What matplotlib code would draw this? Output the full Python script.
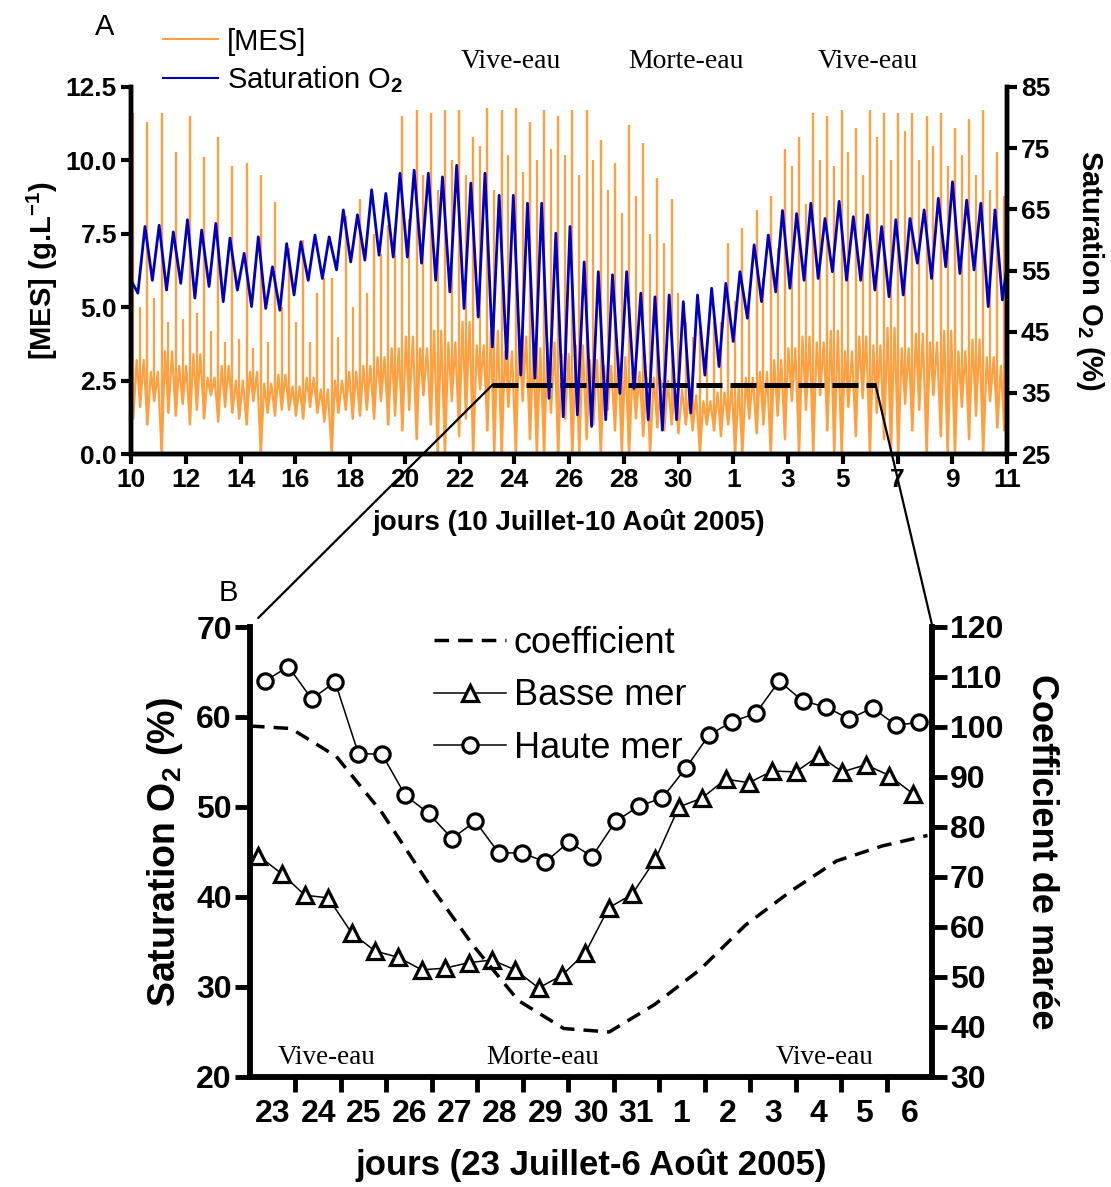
import numpy as np
import matplotlib
matplotlib.use("Agg")
import matplotlib.pyplot as plt
from matplotlib.lines import Line2D
from matplotlib.patches import ConnectionPatch

plt.rcParams['font.family'] = ['Liberation Sans', 'DejaVu Sans']
plt.rcParams['font.weight'] = 'bold'
plt.rcParams['axes.labelweight'] = 'bold'
plt.rcParams['mathtext.fontset'] = 'custom'
plt.rcParams['mathtext.rm'] = 'Liberation Sans'
plt.rcParams['mathtext.bf'] = 'Liberation Sans:bold'

# ---------------------------------------------------------------------------
# Panel A : 10 juillet (jour 0) -> 11 août (jour 32), un cycle de marée = 12.42 h
# ---------------------------------------------------------------------------
tide_period = 0.5175          # jours
o2_first_peak = 0.511         # jour du premier pic de saturation
o2_edges = [53.4, 55.6]       # valeurs aux bords (jour 0 et jour 32)

# maxima de saturation O2 (%) par cycle de marée
o2_peak = [62.2, 62.4, 61.3, 63.3, 61.6, 62.7, 60.3, 57.8, 60.5, 55.6, 59.4, 59.7, 60.8, 60.5, 64.9,
           64.1, 68.2, 67.6, 70.9, 71.4, 70.9, 70.3, 72.2, 69.3, 70.9, 67.3, 67.3, 66.0, 66.0, 61.1, 62.2,
           56.4, 54.8, 54.3, 54.8, 51.3, 50.7, 51.0, 49.9, 51.0, 52.1, 52.9, 54.8, 59.2, 60.8, 64.8,
           64.3, 66.0, 63.5, 66.3, 63.8, 64.1, 62.2, 63.3, 63.5, 64.9, 66.8, 69.5, 66.5, 66.0, 64.9]
# minima de saturation O2 (%) : un avant le premier pic, puis un après chaque pic
o2_trough = [51.3, 53.4, 51.8, 52.9, 50.5, 52.4, 49.9, 51.8, 49.1, 48.8, 48.5, 51.0, 53.4, 53.7, 55.1, 56.4,
             56.7, 57.5, 57.2, 57.2, 56.2, 53.4, 51.5, 48.8, 47.4, 42.5, 40.6, 37.9, 37.4, 34.1, 31.1, 31.4,
             29.5, 30.6, 34.9, 35.7, 30.6, 28.9, 30.6, 31.7, 37.9, 39.3, 43.4, 47.2, 49.9, 51.5, 52.1,
             53.4, 53.7, 54.8, 53.4, 53.4, 51.8, 50.7, 51.0, 56.2, 53.7, 55.6, 54.5, 55.1, 49.1, 50.2]

# [MES] (g/L) : deux pics de remise en suspension par cycle + niveaux de fond
mes_first_spike = 0.0835
mes_spike_a = [11.6, 11.3, 11.6, 10.3, 11.5, 10.1, 10.8, 9.8, 9.9, 9.5, 8.6, 7.0, 7.3, 5.5, 6.0, 8.1, 8.7, 7.5, 7.8,
               11.5, 11.7, 11.6, 11.7, 11.7, 10.8, 11.8, 11.7, 11.8, 11.3, 11.7,
               11.5, 11.7, 11.7, 10.7, 9.9, 11.2, 10.6, 9.4, 8.7,
               4.5, 4.2, 4.5, 7.2, 7.7, 8.3, 8.8,
               10.4, 10.8, 11.6, 11.5, 11.7, 11.1, 11.7, 11.6, 11.6, 11.6, 11.5, 11.6, 11.1, 11.4, 11.7, 10.3]
mes_spike_b = [5.0, 5.3, 4.5, 4.6, 4.8, 4.2, 3.8, 3.9, 3.6, 3.8, 5.0,
               4.5, 3.8, 6.0, 4.0, 5.0, 5.5, 6.8, 7.7,
               8.0, 9.5, 9.0, 10.0, 9.5, 10.5, 9.0, 10.2, 9.6, 10.0, 10.4, 10.2, 9.5, 10.0, 9.0, 8.2, 8.8, 7.5, 7.2, 5.5,
               4.0, 3.8, 4.5, 5.2, 5.5, 6.0, 7.0,
               9.8, 8.5, 10.0, 9.8, 10.3, 9.5, 10.8, 10.0, 11.0, 10.0, 10.5, 9.8, 10.2, 9.5, 9.0, 8.8]
mes_low_a = [1.2, 1.0, 0.0, 1.3, 1.0, 1.2, 1.1, 1.4, 1.0, 0.0, 1.3,
             1.5, 1.2, 1.4, 0.0, 1.5, 1.3, 1.2, 1.0,
             0.8, 0.5, 1.0, 0.0, 0.6, 0.0, 0.8, 0.0, 0.0, 0.5, 0.0, 0.0, 0.0, 0.5, 0.0, 0.8, 0.0, 0.6, 0.9, 1.0,
             1.0, 0.0, 0.8, 1.0, 0.0, 0.7, 0.0,
             0.5, 0.0, 0.0, 0.8, 0.0, 0.6, 0.0, 0.5, 0.0, 0.8, 0.0, 0.6, 0.0, 0.5, 0.0, 0.9]
mes_mid = [3.2, 2.8, 3.5, 3.0, 3.4, 2.6, 3.0, 2.5, 2.8, 2.4, 2.7,
           2.3, 2.6, 2.2, 2.5, 2.8, 3.0, 3.3, 3.6,
           4.0, 3.6, 4.2, 3.8, 4.5, 3.7, 4.2, 3.5, 4.0, 3.6, 3.8, 3.4, 3.7, 3.2, 3.0, 3.3, 2.8, 2.6, 2.5, 2.2,
           2.0, 1.8, 2.1, 2.3, 2.6, 2.8, 3.2,
           3.6, 4.0, 3.8, 4.2, 3.5, 4.0, 3.7, 4.3, 3.6, 4.1, 3.8, 4.2, 3.5, 3.9, 3.3, 3.0]
mes_low_b = [1.6, 1.8, 1.4, 1.7, 1.5, 2.0, 1.6, 1.2, 1.8, 1.4, 1.5,
             1.3, 1.6, 1.1, 1.4, 1.2, 1.5, 1.8, 1.3,
             1.5, 2.0, 0.0, 1.8, 1.2, 2.2, 0.0, 1.6, 1.8, 0.0, 1.4, 1.2, 0.0, 1.0, 1.5, 0.0, 1.2, 0.0, 0.8, 0.7,
             0.8, 1.0, 0.6, 0.0, 1.2, 1.0, 1.3,
             1.8, 1.5, 2.0, 0.0, 1.6, 1.9, 1.4, 0.0, 1.7, 1.5, 2.0, 0.0, 1.6, 1.3, 1.8, 0.8]

top_xticks = list(range(0, 33, 2))
top_xlabels = ['10', '12', '14', '16', '18', '20', '22', '24', '26', '28', '30',
               '1', '3', '5', '7', '9', '11']
zoom_span = [13.2, 27.2]      # période agrandie en B (jours depuis le 10 juillet)
zoom_level = 2.35

# ---------------------------------------------------------------------------
# Panel B : 23 juillet -> 6 août (jour 23 = 23 juillet, 32 = 1er août)
# ---------------------------------------------------------------------------
bm_start, hm_start, sample_step = 23.18, 23.33, 0.514
basse_mer = [44.6, 42.6, 40.2, 39.9, 36.0, 34.0, 33.3, 31.9, 32.1, 32.7, 33.0, 31.9, 29.9, 31.3, 33.8,
             38.8, 40.3, 44.2, 50.0, 51.0, 53.1, 52.7, 54.0, 53.9, 55.7, 53.9, 54.7, 53.5, 51.5]
haute_mer = [64.0, 65.6, 62.0, 63.9, 55.9, 55.9, 51.3, 49.3, 46.5, 48.4, 44.9, 44.9, 43.9, 46.1, 44.5,
             48.4, 50.1, 51.0, 54.3, 58.0, 59.5, 60.4, 64.0, 61.8, 61.1, 59.8, 61.0, 59.1, 59.4]
coef_days = [23.0, 23.9, 24.9, 25.9, 26.9, 27.9, 28.9, 29.9, 30.9, 31.9, 32.9, 33.9, 34.9, 35.9, 36.9, 37.9]
coefficient = [100.2, 99.7, 94.1, 82.9, 69.1, 56.4, 45.3, 39.7, 39.0, 44.5, 51.5, 60.4, 67.2, 73.2, 76.2, 78.3]
bottom_days = ['23', '24', '25', '26', '27', '28', '29', '30', '31', '1', '2', '3', '4', '5', '6']

ORANGE = '#ffa040'
BLUE = '#0000c0'
COEF_DASH = (0, (4.2, 2.6))
W, H = 1111, 1187

fig = plt.figure(figsize=(W / 100, H / 100), dpi=100)


def add_axes_px(left, top, right, bottom):
    return fig.add_axes([left / W, 1 - bottom / H, (right - left) / W, (bottom - top) / H])


def style_spines(ax, lw):
    ax.spines['top'].set_visible(False)
    for s in ('left', 'right', 'bottom'):
        ax.spines[s].set_linewidth(lw)


# ---------------- Panel A ----------------
ax1 = add_axes_px(131, 87, 1007, 454)
ax2 = ax1.twinx()

cyc = np.arange(len(mes_spike_a))
t_a = mes_first_spike + cyc * tide_period
t_b = t_a + 0.25
band_t = np.column_stack([t_a, t_a + 0.125, t_b, t_b + 0.13]).ravel()
band_v = np.column_stack([mes_low_a, mes_mid, mes_low_b, mes_mid]).ravel()
ax1.plot(np.r_[0.0, band_t], np.r_[mes_mid[0], band_v], color=ORANGE, lw=1.6)
ax1.vlines(t_a, mes_low_a, mes_spike_a, color=ORANGE, lw=1.7)
ax1.vlines(t_b, mes_low_b, mes_spike_b, color=ORANGE, lw=1.6)
ax1.plot(zoom_span, [zoom_level, zoom_level], color='k', lw=3.6,
         ls=(0, (5.2, 1.6)), zorder=5)

t_peak = o2_first_peak + np.arange(len(o2_peak)) * tide_period
t_trough = np.r_[t_peak[0] - 0.26, t_peak + 0.27]
t_o2 = np.empty(len(t_peak) + len(t_trough))
v_o2 = np.empty_like(t_o2)
t_o2[0::2], t_o2[1::2] = t_trough, t_peak
v_o2[0::2], v_o2[1::2] = o2_trough, o2_peak
ax2.plot(np.r_[0.0, t_o2, 32.0], np.r_[o2_edges[0], v_o2, o2_edges[1]], color=BLUE, lw=2.0)

ax1.set_xlim(0, 32)
ax1.set_ylim(0, 12.5)
ax2.set_ylim(25, 85)
ax1.set_xticks(top_xticks)
ax1.set_xticklabels(top_xlabels)
ax1.set_yticks(np.arange(0, 12.6, 2.5))
ax1.set_yticklabels([f'{v:.1f}' for v in np.arange(0, 12.6, 2.5)])
ax2.set_yticks(range(25, 86, 10))
for ax in (ax1, ax2):
    style_spines(ax, 3.2)
    ax.tick_params(direction='out', length=7, width=3, labelsize=19, pad=3)
ax1.set_xlabel('jours (10 Juillet-10 Août 2005)', fontsize=20, labelpad=12)
ax1.set_ylabel(r'[MES] (g.L$^{\mathbf{-1}}$)', fontsize=21, labelpad=4)
ax2.set_ylabel(r'Saturation O$_\mathbf{2}$ (%)', fontsize=21, rotation=270, labelpad=40)

ax1.legend([Line2D([], [], color=ORANGE, lw=1.5), Line2D([], [], color=BLUE, lw=1.5)],
           ['[MES]', r'Saturation O$_\mathrm{2}$'],
           loc='upper left', bbox_to_anchor=(148 / W, 1 - 13 / H),
           bbox_transform=fig.transFigure, frameon=False,
           prop={'size': 21, 'weight': 'normal'}, handlelength=1.9,
           handletextpad=0.3, labelspacing=0.3, borderpad=0)

fig.text(105 / W, 1 - 27 / H, 'A', fontsize=21, fontweight='normal', ha='center', va='center')
for x, lbl in [(511, 'Vive-eau'), (686, 'Morte-eau'), (868, 'Vive-eau')]:
    fig.text(x / W, 1 - 62 / H, lbl, family='Liberation Serif', fontweight='normal',
             fontsize=20, ha='center', va='center')

# ---------------- Panel B ----------------
ax3 = add_axes_px(250, 627, 932, 1077)
ax4 = ax3.twinx()

ax4.plot(coef_days, coefficient, color='k', lw=2.5, ls=COEF_DASH)
t_bm = bm_start + np.arange(len(basse_mer)) * sample_step
t_hm = hm_start + np.arange(len(haute_mer)) * sample_step
ax3.plot(t_bm, basse_mer, color='k', lw=1.1, marker='^', ms=12, mfc='white', mec='k', mew=2.3, zorder=4)
ax3.plot(t_hm, haute_mer, color='k', lw=1.1, marker='o', ms=11, mfc='white', mec='k', mew=2.3, zorder=4)

ax3.set_xlim(23, 38)
ax3.set_ylim(20, 70)
ax4.set_ylim(30, 120)
ax3.set_xticks(np.arange(24, 38))
ax3.set_xticklabels([])
ax3.set_xticks(np.arange(23.5, 38, 1.0), minor=True)
ax3.set_xticklabels(bottom_days, minor=True)
ax3.set_yticks(range(20, 71, 10))
ax4.set_yticks(range(30, 121, 10))
for ax in (ax3, ax4):
    style_spines(ax, 4)
    ax.tick_params(direction='out', length=11, width=3.5, labelsize=23, pad=2)
ax3.tick_params(axis='x', which='minor', length=0, labelsize=23, pad=16)
ax3.set_xlabel('jours (23 Juillet-6 Août 2005)', fontsize=25, labelpad=14)
ax3.set_ylabel(r'Saturation O$_\mathbf{2}$ (%)', fontsize=27, labelpad=8)
ax4.set_ylabel('Coefficient de marée', fontsize=26, rotation=270, labelpad=40)

ax3.legend([Line2D([], [], color='k', lw=2.5, ls=COEF_DASH),
            Line2D([], [], color='k', lw=1.1, marker='^', ms=12, mfc='white', mec='k', mew=2.3),
            Line2D([], [], color='k', lw=1.1, marker='o', ms=11, mfc='white', mec='k', mew=2.3)],
           ['coefficient', 'Basse mer', 'Haute mer'],
           loc='upper left', bbox_to_anchor=(416 / W, 1 - 608 / H), bbox_transform=fig.transFigure,
           frameon=False, prop={'size': 26, 'weight': 'normal'}, handlelength=2.0,
           handletextpad=0.2, labelspacing=0.48, borderpad=0)

fig.text(228 / W, 1 - 593 / H, 'B', fontsize=21, fontweight='normal', ha='center', va='center')
for x, lbl in [(327, 'Vive-eau'), (543, 'Morte-eau'), (825, 'Vive-eau')]:
    fig.text(x / W, 1 - 1057 / H, lbl, family='Liberation Serif', fontweight='normal',
             fontsize=19.5, ha='center', va='center')

# lignes de rappel entre A et B
for xa, xyb in [(zoom_span[0], (0.012, 1.02)), (zoom_span[1], (1.0, 1.005))]:
    con = ConnectionPatch(xyA=(xa, zoom_level), coordsA=ax1.transData,
                          xyB=xyb, coordsB=ax3.transAxes, color='k', lw=1.6)
    fig.add_artist(con)

fig.savefig('out.png', dpi=100)
